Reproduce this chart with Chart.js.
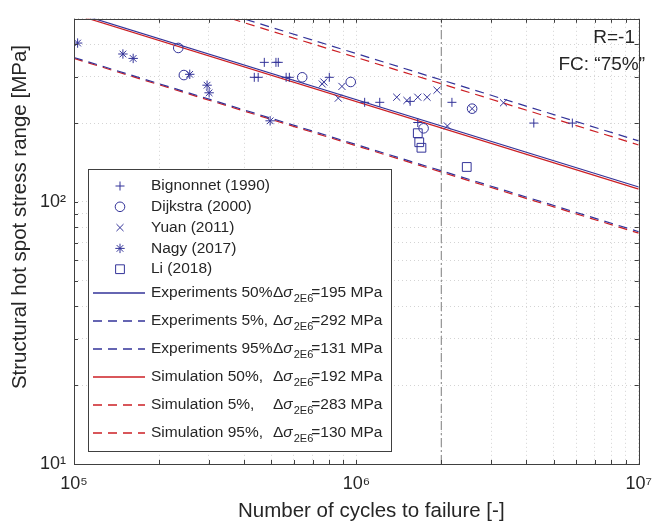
<!DOCTYPE html>
<html>
<head>
<meta charset="utf-8">
<script src="https://cdn.jsdelivr.net/npm/chart.js@4.4.0/dist/chart.umd.min.js"></script>
<style>
html, body { margin: 0; padding: 0; background: #fff; }
</style>
</head>
<body>
<canvas id="sn-chart" width="661" height="525"></canvas>
<script>
(function () {
    "use strict";

    // cycles to failure (N) and hot spot stress range (MPa) per source
    var bignonnetN = [4.35e5, 4.49e5, 4.72e5, 5.19e5, 5.29e5, 5.64e5, 5.79e5, 8.02e5, 1.07e6, 1.21e6, 1.55e6, 2.18e6, 1.65e6, 4.25e6, 5.82e6];
    var bignonnetS = [299, 299, 341, 341, 341, 299, 299, 299, 240, 240, 242, 240, 201, 200, 200];
    var dijkstraN = [2.34e5, 2.45e5, 6.43e5, 9.55e5, 2.57e6, 1.73e6];
    var dijkstraS = [387, 305, 299, 287, 227, 191];
    var yuanN = [7.57e5, 7.67e5, 8.63e5, 8.89e5, 1.39e6, 1.51e6, 1.65e6, 1.78e6, 1.93e6, 2.57e6, 3.32e6, 2.10e6];
    var yuanS = [282, 287, 249, 276, 251, 244, 251, 251, 267, 227, 239, 195];
    var nagyN = [1.03e5, 1.49e5, 1.62e5, 2.57e5, 2.96e5, 3.01e5, 4.95e5];
    var nagyS = [404, 367, 353, 307, 279, 261, 204];
    var liN = [1.65e6, 1.67e6, 1.70e6, 2.46e6];
    var liS = [183, 169, 161, 136];

    // S-N curves, values at the two ends of the x range
    var curveN = [1e5, 1e7];
    var exp50S = [529, 114];
    var exp5S = [793, 171];
    var exp95S = [356, 77];
    var sim50S = [521, 112];
    var sim5S = [768, 165];
    var sim95S = [353, 76];

    var kneeN = [2e6, 2e6];
    var kneeS = [10, 500];

    var sourceNames = ["Bignonnet (1990)", "Dijkstra (2000)", "Yuan (2011)", "Nagy (2017)", "Li (2018)"];
    var curveNames = ["Experiments 50%", "Experiments 5%,", "Experiments 95%", "Simulation 50%,", "Simulation 5%,", "Simulation 95%,"];
    var curveS2E6 = [195, 292, 131, 192, 283, 130];

    var xTicks = [1e5, 2e5, 3e5, 4e5, 5e5, 6e5, 7e5, 8e5, 9e5, 1e6, 2e6, 3e6, 4e6, 5e6, 6e6, 7e6, 8e6, 9e6, 1e7];
    var yTicks = [10, 20, 30, 40, 50, 60, 70, 80, 90, 100, 200, 300, 400, 500];

    var xTitle = "Number of cycles to failure [-]";
    var yTitle = "Structural hot spot stress range [MPa]";

    var blue = "#333399";
    var red = "#cc1f24";
    var ink = "#262626";
    var family = "'Liberation Sans', Arial, Helvetica, sans-serif";
    var sup = { 1: "\u00b9", 2: "\u00b2", 5: "\u2075", 6: "\u2076", 7: "\u2077" };

    function pts(xs, ys) {
        return xs.map(function (x, i) { return { x: x, y: ys[i] }; });
    }

    function marker(label, xs, ys, style, radius) {
        return {
            label: label,
            data: pts(xs, ys),
            pointStyle: style,
            pointRadius: radius,
            pointHoverRadius: radius,
            pointBorderWidth: 1,
            borderColor: blue,
            backgroundColor: "rgba(0,0,0,0)",
            showLine: false
        };
    }

    function curve(label, ys, color, dash) {
        return {
            label: label,
            data: pts(curveN, ys),
            borderColor: color,
            borderWidth: 1.2,
            borderDash: dash,
            pointRadius: 0,
            showLine: true,
            fill: false
        };
    }

    var datasets = [
        marker(sourceNames[0], bignonnetN, bignonnetS, "cross", 4.5),
        marker(sourceNames[1], dijkstraN, dijkstraS, "circle", 4.8),
        marker(sourceNames[2], yuanN, yuanS, "crossRot", 5),
        marker(sourceNames[3], nagyN, nagyS, "star", 4.7),
        marker(sourceNames[4], liN, liS, "rect", 6.2),
        curve(curveNames[0], exp50S, blue, []),
        curve(curveNames[1], exp5S, blue, [9, 6]),
        curve(curveNames[2], exp95S, blue, [9, 6]),
        curve(curveNames[3], sim50S, red, []),
        curve(curveNames[4], sim5S, red, [9, 6]),
        curve(curveNames[5], sim95S, red, [9, 6]),
        {
            label: "knee",
            data: pts(kneeN, kneeS),
            borderColor: "#999999",
            borderWidth: 1.3,
            borderDash: [9, 3, 2, 3],
            pointRadius: 0,
            showLine: true,
            order: 5
        }
    ];
    var legendCount = sourceNames.length + curveNames.length;

    function powLabel(value) {
        var e = Math.round(Math.log10(value));
        if (Math.abs(Math.pow(10, e) - value) < 1e-6 * value) {
            return "10" + sup[e];
        }
        return "";
    }

    // axes box with inward ticks (MATLAB look)
    var boxPlugin = {
        id: "axesBox",
        afterDatasetsDraw: function (chart) {
            var ctx = chart.ctx;
            var a = chart.chartArea;
            ctx.save();
            ctx.strokeStyle = "#404040";
            ctx.lineWidth = 1;
            ctx.beginPath();
            chart.scales.x.ticks.forEach(function (t) {
                var px = Math.round(chart.scales.x.getPixelForValue(t.value)) + 0.5;
                ctx.moveTo(px, a.bottom);
                ctx.lineTo(px, a.bottom - 4);
                ctx.moveTo(px, a.top);
                ctx.lineTo(px, a.top + 4);
            });
            chart.scales.y.ticks.forEach(function (t) {
                var py = Math.round(chart.scales.y.getPixelForValue(t.value)) + 0.5;
                ctx.moveTo(a.left, py);
                ctx.lineTo(a.left + 4, py);
                ctx.moveTo(a.right, py);
                ctx.lineTo(a.right - 4, py);
            });
            ctx.stroke();
            ctx.strokeRect(Math.round(a.left) + 0.5, Math.round(a.top) + 0.5,
                Math.round(a.right - a.left), Math.round(a.bottom - a.top));

            // axis titles, placed like the exported figure (slightly off-centre)
            ctx.fillStyle = ink;
            ctx.font = "20.5px " + family;
            ctx.textBaseline = "middle";
            ctx.textAlign = "left";
            ctx.fillText(xTitle, 238, 511);
            ctx.translate(20, 45);
            ctx.rotate(-Math.PI / 2);
            ctx.textAlign = "right";
            ctx.fillText(yTitle, 0, 0);
            ctx.restore();
        }
    };

    var legendPlugin = {
        id: "snLegend",
        afterDraw: function (chart) {
            var ctx = chart.ctx;
            var left = 88, top = 169, right = 391, bottom = 451;
            ctx.save();
            ctx.fillStyle = "#ffffff";
            ctx.fillRect(left, top, right - left, bottom - top);
            ctx.strokeStyle = "#404040";
            ctx.lineWidth = 1;
            ctx.strokeRect(left + 0.5, top + 0.5, right - left, bottom - top);
            ctx.restore();

            for (var i = 0; i < legendCount; i++) {
                var ds = chart.data.datasets[i];
                var y;
                ctx.save();
                ctx.textBaseline = "middle";
                ctx.textAlign = "left";
                if (i < sourceNames.length) {
                    y = 186 + i * 20.8;
                    ctx.strokeStyle = blue;
                    ctx.fillStyle = "rgba(0,0,0,0)";
                    ctx.lineWidth = 1;
                    Chart.helpers.drawPoint(ctx, {
                        pointStyle: ds.pointStyle,
                        radius: ds.pointRadius,
                        borderWidth: 1,
                        rotation: 0
                    }, 120, y);
                    ctx.fillStyle = ink;
                    ctx.font = "15.5px " + family;
                    ctx.fillText(ds.label, 151, y);
                    ctx.restore();
                    continue;
                }
                var j = i - sourceNames.length;
                y = 293 + j * 28;
                ctx.beginPath();
                ctx.setLineDash(ds.borderDash);
                ctx.lineWidth = 1.3;
                ctx.strokeStyle = ds.borderColor;
                ctx.moveTo(93, y);
                ctx.lineTo(145, y);
                ctx.stroke();
                ctx.setLineDash([]);

                ctx.fillStyle = ink;
                ctx.font = "15.5px " + family;
                ctx.fillText(ds.label, 151, y);
                var x = 273;
                ctx.fillText("\u0394", x, y);
                x += ctx.measureText("\u0394").width;
                ctx.font = "italic 15.5px " + family;
                ctx.fillText("\u03c3", x, y);
                x += ctx.measureText("\u03c3").width + 1;
                ctx.font = "11px " + family;
                ctx.fillText("2E6", x, y + 6);
                x += ctx.measureText("2E6").width - 2;
                ctx.font = "15.5px " + family;
                ctx.fillText("=" + curveS2E6[j] + " MPa", x, y);
                ctx.restore();
            }

            // load ratio / fitting annotation
            ctx.save();
            ctx.fillStyle = ink;
            ctx.font = "19px " + family;
            ctx.textAlign = "right";
            ctx.textBaseline = "middle";
            ctx.fillText("R=-1", 635, 38);
            ctx.fillText("FC: \u201c75%\u201d", 645, 65);
            ctx.restore();
        }
    };

    var canvas = document.getElementById("sn-chart");
    new Chart(canvas.getContext("2d"), {
        type: "scatter",
        data: { datasets: datasets },
        options: {
            responsive: false,
            animation: false,
            devicePixelRatio: 1,
            layout: { padding: { top: 13, right: 14, left: 0, bottom: 0 } },
            plugins: {
                legend: { display: false },
                tooltip: { enabled: false }
            },
            scales: {
                x: {
                    type: "logarithmic",
                    position: "bottom",
                    min: 1e5,
                    max: 1e7,
                    afterBuildTicks: function (scale) {
                        scale.ticks = xTicks.map(function (v) { return { value: v }; });
                    },
                    afterFit: function (scale) { scale.height = 61; },
                    grid: { color: "#d4d4d4", lineWidth: 1, drawTicks: false },
                    border: { display: false, dash: [1, 3] },
                    ticks: {
                        autoSkip: false,
                        maxRotation: 0,
                        padding: 9,
                        color: ink,
                        font: { family: family, size: 18 },
                        callback: powLabel
                    },
                    title: { display: false }
                },
                y: {
                    type: "logarithmic",
                    position: "left",
                    min: 10,
                    max: 500,
                    afterBuildTicks: function (scale) {
                        scale.ticks = yTicks.map(function (v) { return { value: v }; });
                    },
                    afterFit: function (scale) { scale.width = 74; },
                    grid: { color: "#d4d4d4", lineWidth: 1, drawTicks: false },
                    border: { display: false, dash: [1, 3] },
                    ticks: {
                        autoSkip: false,
                        padding: 8,
                        color: ink,
                        font: { family: family, size: 18 },
                        callback: powLabel
                    },
                    title: { display: false }
                }
            }
        },
        plugins: [boxPlugin, legendPlugin]
    });
})();
</script>
</body>
</html>
